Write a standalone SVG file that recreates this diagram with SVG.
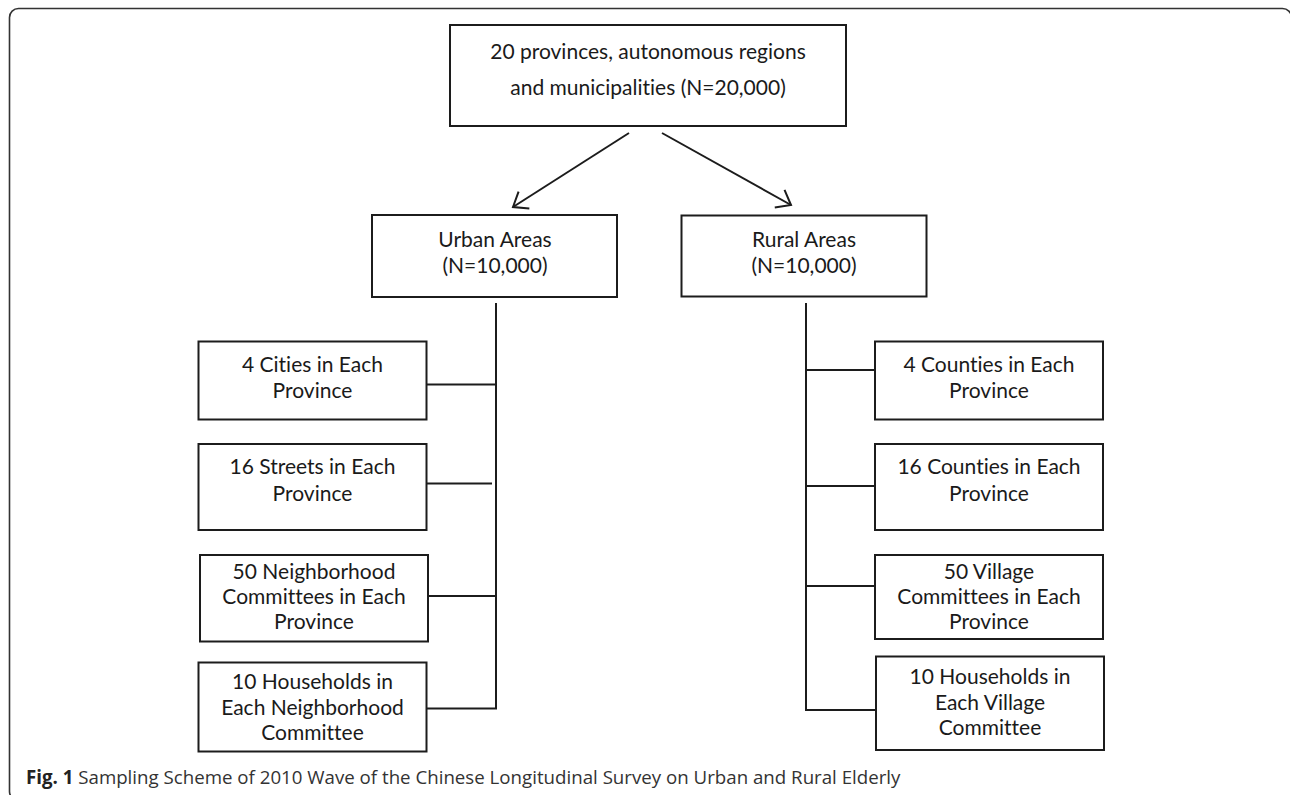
<svg xmlns="http://www.w3.org/2000/svg" width="1290" height="795" viewBox="0 0 1290 795">
<style>
.box{fill:#fff;stroke:#1c1c1c;stroke-width:2}
.t{font-family:Lato,"Open Sans","Liberation Sans",sans-serif;font-size:21px;fill:#1a1a1a;text-anchor:middle;font-variant-ligatures:none}
.ln{stroke:#1c1c1c;stroke-width:2;fill:none}
.cap{font-family:"Open Sans","Noto Sans","Liberation Sans",sans-serif;font-size:18.7px;fill:#333}
</style>
<defs>
<marker id="arr" markerUnits="userSpaceOnUse" markerWidth="30" markerHeight="30" viewBox="-20 -15 30 30" refX="0" refY="0" orient="auto">
<path d="M -13,-10 L 0,0 L -13,10" fill="none" stroke="#1c1c1c" stroke-width="2"/>
</marker>
</defs>
<rect x="9.5" y="8.5" width="1282" height="792" rx="9" fill="#fff" stroke="#333" stroke-width="1.6"/>
<g id="connectors">
<line class="ln" x1="629" y1="133" x2="513" y2="207" marker-end="url(#arr)"/>
<line class="ln" x1="662" y1="133" x2="791" y2="205" marker-end="url(#arr)"/>
<line class="ln" x1="496" y1="303" x2="496" y2="709"/>
<line class="ln" x1="427" y1="384.5" x2="497" y2="384.5"/>
<line class="ln" x1="427" y1="483.5" x2="492" y2="483.5"/>
<line class="ln" x1="428" y1="596" x2="497" y2="596"/>
<line class="ln" x1="427" y1="708.5" x2="497" y2="708.5"/>
<line class="ln" x1="806" y1="303" x2="806" y2="711"/>
<line class="ln" x1="805" y1="370" x2="875" y2="370"/>
<line class="ln" x1="805" y1="486" x2="875" y2="486"/>
<line class="ln" x1="805" y1="586" x2="875" y2="586"/>
<line class="ln" x1="805" y1="710" x2="876" y2="710"/>
</g>
<g id="top">
<rect class="box" x="450" y="25" width="396" height="101"/>
<text class="t" x="648" y="59">20 provinces, autonomous regions</text>
<text class="t" x="648" y="95">and municipalities (N=20,000)</text>
</g>
<g id="urban">
<rect class="box" x="372" y="215" width="245" height="82"/>
<text class="t" x="495" y="246.5">Urban Areas</text>
<text class="t" x="495" y="273">(N=10,000)</text>
</g>
<g id="rural">
<rect class="box" x="681.5" y="215.5" width="245" height="81"/>
<text class="t" x="804" y="246.5">Rural Areas</text>
<text class="t" x="804" y="273">(N=10,000)</text>
</g>
<g id="cities">
<rect class="box" x="198.5" y="341.5" width="228" height="78"/>
<text class="t" x="312.5" y="371.5">4 Cities in Each</text>
<text class="t" x="312.5" y="398">Province</text>
</g>
<g id="streets">
<rect class="box" x="198.5" y="444" width="228" height="86"/>
<text class="t" x="312.5" y="474">16 Streets in Each</text>
<text class="t" x="312.5" y="500.5">Province</text>
</g>
<g id="neighborhood">
<rect class="box" x="200" y="555" width="228" height="86.5"/>
<text class="t" x="314" y="578.6">50 Neighborhood</text>
<text class="t" x="314" y="604">Committees in Each</text>
<text class="t" x="314" y="629.4">Province</text>
</g>
<g id="urbanHouseholds">
<rect class="box" x="198.5" y="662.5" width="228" height="89"/>
<text class="t" x="312.5" y="689.3">10 Households in</text>
<text class="t" x="312.5" y="714.7">Each Neighborhood</text>
<text class="t" x="312.5" y="740.1">Committee</text>
</g>
<g id="counties4">
<rect class="box" x="875" y="341.5" width="228" height="78"/>
<text class="t" x="989" y="371.5">4 Counties in Each</text>
<text class="t" x="989" y="398">Province</text>
</g>
<g id="counties16">
<rect class="box" x="875" y="444" width="228" height="86"/>
<text class="t" x="989" y="474">16 Counties in Each</text>
<text class="t" x="989" y="500.5">Province</text>
</g>
<g id="village">
<rect class="box" x="875" y="555" width="228" height="84"/>
<text class="t" x="989" y="578.6">50 Village</text>
<text class="t" x="989" y="604">Committees in Each</text>
<text class="t" x="989" y="629.4">Province</text>
</g>
<g id="ruralHouseholds">
<rect class="box" x="876" y="656.5" width="228" height="93.5"/>
<text class="t" x="990" y="684.1">10 Households in</text>
<text class="t" x="990" y="709.5">Each Village</text>
<text class="t" x="990" y="734.9">Committee</text>
</g>
<text class="cap" x="26" y="784"><tspan font-weight="bold" fill="#222">Fig. 1</tspan> Sampling Scheme of 2010 Wave of the Chinese Longitudinal Survey on Urban and Rural Elderly</text>
</svg>
